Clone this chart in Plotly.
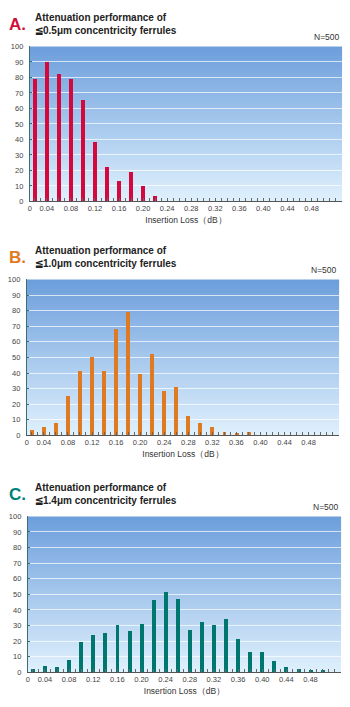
import plotly.graph_objects as go

# ---------------- data ----------------
loss_bins = [0.02, 0.04, 0.06, 0.08, 0.10, 0.12, 0.14, 0.16, 0.18, 0.20,
             0.22, 0.24, 0.26, 0.28, 0.30, 0.32, 0.34, 0.36, 0.38, 0.40,
             0.42, 0.44, 0.46, 0.48, 0.50]
counts_a = [79, 90, 82, 79, 65, 38, 22, 13, 19, 10, 3]
counts_b = [3, 5, 8, 25, 41, 50, 41, 68, 79, 39, 52, 28, 31, 12, 8, 5, 2, 1, 2]
counts_c = [2, 4, 3, 8, 19, 24, 25, 30, 26, 31, 46, 51, 47, 27, 32, 30, 34, 21,
            13, 13, 7, 3, 2, 1, 1]
x_tick_vals = [0.04, 0.08, 0.12, 0.16, 0.20, 0.24, 0.28, 0.32, 0.36, 0.40, 0.44, 0.48]
x_tick_text = ["0.04", "0.08", "0.12", "0.16", "0.20", "0.24", "0.28", "0.32",
               "0.36", "0.40", "0.44", "0.48"]
y_ticks = [0, 10, 20, 30, 40, 50, 60, 70, 80, 90, 100]
letters = ["A.", "B.", "C."]
subtitles = ["≦0.5μm concentricity ferrules", "≦1.0μm concentricity ferrules",
             "≦1.4μm concentricity ferrules"]
title_line = "Attenuation performance of"
n_label = "N=500"
x_title = "Insertion Loss（dB）"

# ---------------- layout helpers ----------------
W, H = 350, 707
X_MIN, X_MAX = 0.0117, 0.5307
FONT = "Arial, Liberation Sans, sans-serif"

panels = [
    dict(counts=counts_a, bar="#d4083c", letter="#d0103c", px=(28, 342), py=(43, 200)),
    dict(counts=counts_b, bar="#de7a22", letter="#e07a22", px=(25, 339), py=(279, 437)),
    dict(counts=counts_c, bar="#00776e", letter="#00807a", px=(26, 341), py=(519, 677)),
]

def py2p(y):
    return 1 - y / H

fig = go.Figure()
annotations = []
shapes = []
top_col = (108, 158, 220)
bot_col = (224, 241, 253)
NSTRIP = 48

for i, p in enumerate(panels):
    n = "" if i == 0 else str(i + 1)
    xa, ya = "x" + n, "y" + n
    vals = p["counts"]
    fig.add_trace(go.Bar(
        x=loss_bins[:len(vals)], y=vals, xaxis=xa, yaxis=ya,
        marker=dict(color=p["bar"], line=dict(width=0)),
        width=0.0066, showlegend=False, hoverinfo="x+y"))

    x0, x1 = p["px"]
    yt, yb = p["py"]
    fig.layout["xaxis" + n] = dict(
        domain=[x0 / W, x1 / W], anchor=ya, range=[X_MIN, X_MAX],
        tickmode="array", tickvals=[X_MIN] + x_tick_vals, ticktext=["0"] + x_tick_text,
        ticks="inside", ticklen=3, tickcolor="#666", tickwidth=1,
        minor=dict(ticks="inside", dtick=0.01, tick0=0, ticklen=3, tickcolor="#666",
                   showgrid=False),
        showline=True, linecolor="#555", linewidth=1, mirror=False,
        showgrid=False, zeroline=False,
        tickfont=dict(family=FONT, size=7.5, color="#444"),
        title=dict(text=x_title, font=dict(family=FONT, size=8.5, color="#333"), standoff=4),
        fixedrange=True)
    fig.layout["yaxis" + n] = dict(
        domain=[py2p(yb), py2p(yt)], anchor=xa, range=[0, 100],
        tickmode="array", tickvals=y_ticks,
        ticks="inside", ticklen=2, tickcolor="#2d6e6e",
        showline=True, linecolor="#3c6e72", linewidth=1,
        showgrid=True, gridcolor="rgba(255,255,255,0.7)", gridwidth=1,
        zeroline=False, ticklabelstandoff=4,
        tickfont=dict(family=FONT, size=7.5, color="#444"),
        fixedrange=True)

    # gradient plot background (decoration), strips overlap to avoid seams
    for k in range(NSTRIP):
        t = (k + 0.5) / NSTRIP
        c = tuple(int(round(bot_col[j] + (top_col[j] - bot_col[j]) * t)) for j in range(3))
        shapes.append(dict(type="rect", xref=xa + " domain", yref=ya + " domain",
                           x0=0, x1=1, y0=k / NSTRIP,
                           y1=min(1.0, (k + 1) / NSTRIP + 0.012),
                           fillcolor="rgb(%d,%d,%d)" % c, line=dict(width=0),
                           layer="below"))

    # headings
    annotations.append(dict(xref="paper", yref="paper", x=5 / W, y=py2p(yt - 22),
                            xanchor="left", yanchor="middle", showarrow=False,
                            text="<b>" + letters[i] + "</b>",
                            font=dict(family=FONT, size=17, color=p["letter"])))
    annotations.append(dict(xref="paper", yref="paper", x=31 / W, y=py2p(yt - 37),
                            xanchor="left", yanchor="top", showarrow=False, align="left",
                            text="<b>" + title_line + "<br>" + subtitles[i] + "</b>",
                            font=dict(family=FONT, size=10, color="#222")))
    annotations.append(dict(xref="paper", yref="paper", x=x1 / W, y=py2p(yt - 2),
                            xanchor="right", yanchor="bottom", showarrow=False,
                            text=n_label, font=dict(family=FONT, size=8.5, color="#333")))

fig.update_layout(
    width=W, height=H, margin=dict(l=0, r=0, t=0, b=0),
    paper_bgcolor="white", plot_bgcolor="rgba(0,0,0,0)",
    bargap=0, annotations=annotations, shapes=shapes,
    font=dict(family=FONT))

fig.write_html("out.html")
